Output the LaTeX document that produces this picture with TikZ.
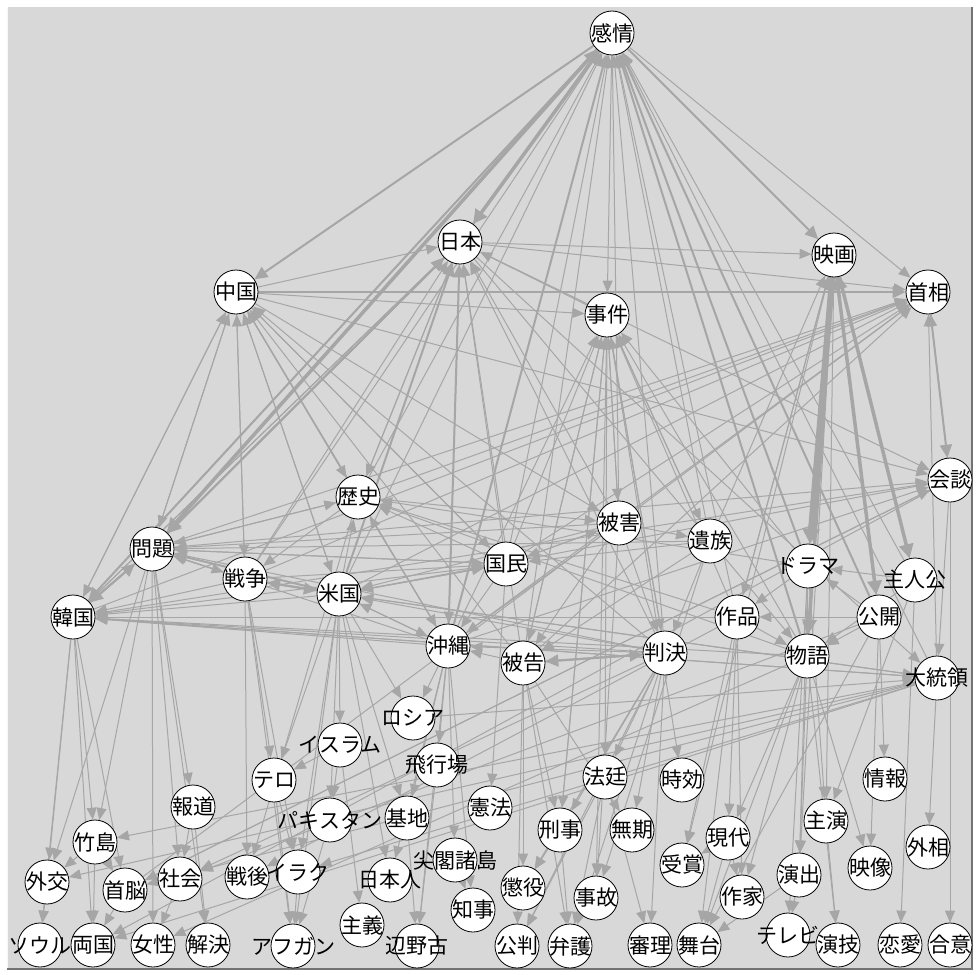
\documentclass[tikz,border=0pt]{standalone}
\usepackage{fontspec}
\newfontfamily\jafont{Noto Sans CJK JP}[RawFeature=+pwid]
\usetikzlibrary{arrows.meta}
\definecolor{bggray}{RGB}{216,216,216}
\definecolor{edgegray}{RGB}{166,166,166}
\pgfdeclarelayer{bg}
\pgfsetlayers{bg,main}

\begin{document}
\begin{tikzpicture}[x=1pt,y=-1pt,
    word/.style={circle,draw=black,line width=0.8pt,fill=white,
        minimum size=44pt,inner sep=0pt,
        label={[font=\jafont\fontsize{21}{21}\selectfont,inner sep=0pt]center:#1}},
    link/.style={color=edgegray,line width=1pt,
        -{Triangle[length=12pt,width=10pt]}},
    link2/.style={link,line width=2pt,-{Triangle[length=13pt,width=12pt]}},
    link3/.style={link,line width=3.5pt,-{Triangle[length=14pt,width=14pt]}},
    link4/.style={link,line width=6pt,-{Triangle[length=15pt,width=17pt]}}
    ]
    \useasboundingbox (0,0) rectangle (976,974);

    % top rows
    \node[word=感情] (kanjo) at (612,33) {};
    \node[word=日本] (nihon) at (460,242) {};
    \node[word=映画] (eiga) at (834,255) {};
    \node[word=中国] (chugoku) at (236,292) {};
    \node[word=首相] (shusho) at (928,292) {};
    \node[word=事件] (jiken) at (607,315) {};

    % middle rows
    \node[word=歴史] (rekishi) at (358,497) {};
    \node[word=会談] (kaidan) at (950,480) {};
    \node[word=被害] (higai) at (619,523) {};
    \node[word=遺族] (izoku) at (710,541) {};
    \node[word=問題] (mondai) at (152,549) {};
    \node[word=国民] (kokumin) at (506,564) {};
    \node[word=ドラマ] (drama) at (808,566) {};
    \node[word=主人公] (shujinko) at (915,580) {};
    \node[word=戦争] (senso) at (245,579) {};
    \node[word=米国] (beikoku) at (339,594) {};
    \node[word=韓国] (kankoku) at (73,617) {};
    \node[word=作品] (sakuhin) at (737,617) {};
    \node[word=公開] (kokai) at (879,617) {};
    \node[word=沖縄] (okinawa) at (448,646) {};
    \node[word=被告] (hikoku) at (523,663) {};
    \node[word=判決] (hanketsu) at (665,653) {};
    \node[word=物語] (monogatari) at (807,656) {};
    \node[word=大統領] (daitoryo) at (937,678) {};

    % lower rows
    \node[word=ロシア] (russia) at (413,718) {};
    \node[word=イスラム] (islam) at (340,745) {};
    \node[word=飛行場] (hikojo) at (437,765) {};
    \node[word=テロ] (terror) at (274,780) {};
    \node[word=報道] (hodo) at (193,807) {};
    \node[word=情報] (joho) at (885,779) {};
    \node[word=法廷] (hotei) at (605,777) {};
    \node[word=時効] (jiko) at (682,780) {};
    \node[word=主演] (shuen) at (826,821) {};
    \node[word=パキスタン] (pakistan) at (330,820) {};
    \node[word=基地] (kichi) at (407,818) {};
    \node[word=憲法] (kenpo) at (490,808) {};
    \node[word=刑事] (keiji) at (560,830) {};
    \node[word=無期] (muki) at (632,830) {};
    \node[word=竹島] (takeshima) at (95,842) {};
    \node[word=外相] (gaisho) at (928,847) {};
    \node[word=現代] (gendai) at (728,838) {};
    \node[word=受賞] (jusho) at (682,865) {};
    \node[word=演出] (enshutsu) at (799,875) {};
    \node[word=映像] (eizo) at (870,868) {};
    \node[word=外交] (gaiko) at (47,882) {};
    \node[word=首脳] (shuno) at (125,890) {};
    \node[word=社会] (shakai) at (180,879) {};
    \node[word=戦後] (sengo) at (247,877) {};
    \node[word=イラク] (iraq) at (298,872) {};
    \node[word=日本人] (nihonjin) at (390,880) {};
    \node[word=尖閣諸島] (senkaku) at (455,860) {};
    \node[word=懲役] (choeki) at (523,888) {};
    \node[word=事故] (accident) at (596,898) {};
    \node[word=作家] (sakka) at (742,897) {};
    \node[word=知事] (chiji) at (473,910) {};
    \node[word=主義] (shugi) at (362,925) {};

    % bottom row
    \node[word=ソウル] (seoul) at (40,945) {};
    \node[word=両国] (ryokoku) at (93,945) {};
    \node[word=女性] (josei) at (153,945) {};
    \node[word=解決] (kaiketsu) at (208,945) {};
    \node[word=アフガン] (afghan) at (293,946) {};
    \node[word=辺野古] (henoko) at (417,946) {};
    \node[word=公判] (kohan) at (517,946) {};
    \node[word=弁護] (bengo) at (570,946) {};
    \node[word=審理] (shinri) at (650,945) {};
    \node[word=舞台] (butai) at (699,945) {};
    \node[word=テレビ] (tv) at (788,935) {};
    \node[word=演技] (engi) at (838,945) {};
    \node[word=恋愛] (renai) at (900,945) {};
    \node[word=合意] (goi) at (950,945) {};

    \begin{pgfonlayer}{bg}
        % frame
        \fill[bggray] (7,7) rectangle (972,969);
        \draw[white!80!bggray] (7.5,7) -- (7.5,969);
        \draw[black!55,line width=2pt] (972,7) -- (972,969) -- (7,969);

        % top node
        \draw[link3] (kanjo) -- (mondai);
        \draw[link3] (kanjo) -- (nihon);
        \draw[link2] (kanjo) -- (kankoku);
        \draw[link2] (kanjo) -- (chugoku);
        \draw[link] (kanjo) -- (jiken);
        \draw[link2] (kanjo) -- (eiga);
        \draw[link] (kanjo) -- (shusho);
        \draw[link2] (mondai) -- (kanjo);
        \draw[link2] (nihon) -- (kanjo);
        \draw[link] (kankoku) -- (kanjo);
        \draw[link] (senso) -- (kanjo);
        \draw[link] (beikoku) -- (kanjo);
        \draw[link] (rekishi) -- (kanjo);
        \draw[link2] (okinawa) -- (kanjo);
        \draw[link] (kokumin) -- (kanjo);
        \draw[link] (higai) -- (kanjo);
        \draw[link] (hikoku) -- (kanjo);
        \draw[link] (hanketsu) -- (kanjo);
        \draw[link] (izoku) -- (kanjo);
        \draw[link] (sakuhin) -- (kanjo);
        \draw[link2] (drama) -- (kanjo);
        \draw[link2] (monogatari) -- (kanjo);
        \draw[link2] (kokai) -- (kanjo);
        \draw[link] (shujinko) -- (kanjo);
        \draw[link] (daitoryo) -- (kanjo);

        % nihon
        \draw[link] (chugoku) -- (nihon);
        \draw[link2] (mondai) -- (nihon);
        \draw[link] (kankoku) -- (nihon);
        \draw[link] (senso) -- (nihon);
        \draw[link2] (beikoku) -- (nihon);
        \draw[link] (rekishi) -- (nihon);
        \draw[link2] (okinawa) -- (nihon);
        \draw[link] (kokumin) -- (nihon);
        \draw[link] (higai) -- (nihon);
        \draw[link] (hanketsu) -- (nihon);
        \draw[link] (hikoku) -- (nihon);
        \draw[link] (jiken) -- (nihon);
        \draw[link] (nihon) -- (eiga);
        \draw[link] (nihon) -- (shusho);
        \draw[link] (nihon) -- (kaidan);
        \draw[link2] (nihon) -- (mondai);
        \draw[link] (nihon) -- (kankoku);
        \draw[link] (nihon) -- (okinawa);
        \draw[link] (nihon) -- (monogatari);
        \draw[link] (nihon) -- (daitoryo);
        \draw[link] (nihon) -- (rekishi);

        % chugoku
        \draw[link2] (chugoku) -- (shusho);
        \draw[link] (chugoku) -- (mondai);
        \draw[link] (chugoku) -- (kankoku);
        \draw[link] (chugoku) -- (rekishi);
        \draw[link] (chugoku) -- (senso);
        \draw[link] (chugoku) -- (beikoku);
        \draw[link] (chugoku) -- (okinawa);
        \draw[link] (chugoku) -- (kokumin);
        \draw[link] (chugoku) -- (jiken);
        \draw[link] (chugoku) -- (kaidan);
        \draw[link] (chugoku) -- (higai);
        \draw[link] (kankoku) -- (chugoku);
        \draw[link] (mondai) -- (chugoku);
        \draw[link] (senso) -- (chugoku);
        \draw[link] (beikoku) -- (chugoku);
        \draw[link] (rekishi) -- (chugoku);
        \draw[link] (okinawa) -- (chugoku);
        \draw[link] (kokumin) -- (chugoku);
        \draw[link] (hanketsu) -- (chugoku);
        \draw[link] (hikoku) -- (chugoku);

        % jiken
        \draw[link] (jiken) -- (higai);
        \draw[link] (jiken) -- (izoku);
        \draw[link] (jiken) -- (hanketsu);
        \draw[link] (jiken) -- (hikoku);
        \draw[link] (jiken) -- (jiko);
        \draw[link] (jiken) -- (accident);
        \draw[link] (jiken) -- (keiji);
        \draw[link] (jiken) -- (hotei);
        \draw[link] (higai) -- (jiken);
        \draw[link] (izoku) -- (jiken);
        \draw[link] (hanketsu) -- (jiken);
        \draw[link] (hikoku) -- (jiken);
        \draw[link] (keiji) -- (jiken);
        \draw[link] (kokumin) -- (jiken);
        \draw[link] (okinawa) -- (jiken);
        \draw[link] (monogatari) -- (jiken);
        \draw[link] (drama) -- (jiken);
        \draw[link] (sakuhin) -- (jiken);

        % eiga
        \draw[link4] (eiga) -- (drama);
        \draw[link3] (eiga) -- (kokai);
        \draw[link3] (eiga) -- (shujinko);
        \draw[link3] (eiga) -- (monogatari);
        \draw[link] (eiga) -- (sakuhin);
        \draw[link] (eiga) -- (shuen);
        \draw[link] (eiga) -- (enshutsu);
        \draw[link] (eiga) -- (jusho);
        \draw[link] (drama) -- (eiga);
        \draw[link] (sakuhin) -- (eiga);
        \draw[link2] (monogatari) -- (eiga);
        \draw[link] (kokai) -- (eiga);
        \draw[link] (shujinko) -- (eiga);
        \draw[link] (izoku) -- (eiga);

        % shusho and kaidan
        \draw[link] (mondai) -- (shusho);
        \draw[link] (kankoku) -- (shusho);
        \draw[link] (beikoku) -- (shusho);
        \draw[link] (senso) -- (shusho);
        \draw[link] (rekishi) -- (shusho);
        \draw[link] (okinawa) -- (shusho);
        \draw[link] (kokumin) -- (shusho);
        \draw[link] (hikoku) -- (shusho);
        \draw[link] (kaidan) -- (shusho);
        \draw[link] (daitoryo) -- (shusho);
        \draw[link2] (shusho) -- (kaidan);
        \draw[link] (shuno) -- (shusho);
        \draw[link] (mondai) -- (kaidan);
        \draw[link] (kankoku) -- (kaidan);
        \draw[link] (beikoku) -- (kaidan);
        \draw[link] (shuno) -- (kaidan);
        \draw[link] (okinawa) -- (kaidan);
        \draw[link] (kaidan) -- (daitoryo);
        \draw[link] (kaidan) -- (goi);
        \draw[link] (kaidan) -- (shuno);
        \draw[link] (kaidan) -- (ryokoku);

        % daitoryo
        \draw[link] (daitoryo) -- (kankoku);
        \draw[link] (daitoryo) -- (beikoku);
        \draw[link] (daitoryo) -- (gaisho);
        \draw[link] (daitoryo) -- (shuno);
        \draw[link] (daitoryo) -- (ryokoku);
        \draw[link] (daitoryo) -- (gaiko);
        \draw[link] (daitoryo) -- (iraq);
        \draw[link] (daitoryo) -- (takeshima);
        \draw[link] (beikoku) -- (daitoryo);
        \draw[link] (kankoku) -- (daitoryo);
        \draw[link] (russia) -- (daitoryo);

        % mondai and kankoku
        \draw[link2] (mondai) -- (kankoku);
        \draw[link2] (kankoku) -- (mondai);
        \draw[link] (mondai) -- (senso);
        \draw[link] (mondai) -- (hodo);
        \draw[link] (mondai) -- (shakai);
        \draw[link] (mondai) -- (josei);
        \draw[link] (mondai) -- (kaiketsu);
        \draw[link] (mondai) -- (gaiko);
        \draw[link] (mondai) -- (takeshima);
        \draw[link] (mondai) -- (kokumin);
        \draw[link] (mondai) -- (rekishi);
        \draw[link] (senso) -- (mondai);
        \draw[link2] (beikoku) -- (mondai);
        \draw[link] (rekishi) -- (mondai);
        \draw[link] (kokumin) -- (mondai);
        \draw[link] (okinawa) -- (mondai);
        \draw[link] (higai) -- (mondai);
        \draw[link] (hanketsu) -- (mondai);
        \draw[link] (izoku) -- (mondai);
        \draw[link] (kankoku) -- (takeshima);
        \draw[link] (kankoku) -- (gaiko);
        \draw[link] (kankoku) -- (seoul);
        \draw[link] (kankoku) -- (ryokoku);
        \draw[link] (kankoku) -- (shuno);
        \draw[link] (beikoku) -- (kankoku);
        \draw[link] (senso) -- (kankoku);
        \draw[link] (okinawa) -- (kankoku);
        \draw[link] (kokumin) -- (kankoku);
        \draw[link] (hanketsu) -- (kankoku);
        \draw[link] (sakuhin) -- (kankoku);
        \draw[link] (monogatari) -- (kankoku);

        % senso and beikoku
        \draw[link] (senso) -- (sengo);
        \draw[link] (senso) -- (iraq);
        \draw[link] (senso) -- (terror);
        \draw[link] (senso) -- (afghan);
        \draw[link2] (senso) -- (beikoku);
        \draw[link2] (beikoku) -- (senso);
        \draw[link] (rekishi) -- (senso);
        \draw[link] (senso) -- (kokumin);
        \draw[link] (beikoku) -- (terror);
        \draw[link] (beikoku) -- (iraq);
        \draw[link] (beikoku) -- (afghan);
        \draw[link] (beikoku) -- (islam);
        \draw[link] (beikoku) -- (pakistan);
        \draw[link] (beikoku) -- (kichi);
        \draw[link] (beikoku) -- (nihonjin);
        \draw[link] (beikoku) -- (okinawa);
        \draw[link] (beikoku) -- (kokumin);
        \draw[link] (beikoku) -- (rekishi);
        \draw[link] (beikoku) -- (russia);
        \draw[link] (kokumin) -- (beikoku);
        \draw[link] (okinawa) -- (beikoku);
        \draw[link] (hanketsu) -- (beikoku);
        \draw[link] (higai) -- (beikoku);

        % rekishi and okinawa
        \draw[link] (rekishi) -- (higai);
        \draw[link] (rekishi) -- (sengo);
        \draw[link] (okinawa) -- (rekishi);
        \draw[link] (kokumin) -- (rekishi);
        \draw[link] (sakuhin) -- (rekishi);
        \draw[link] (monogatari) -- (rekishi);
        \draw[link] (drama) -- (rekishi);
        \draw[link] (okinawa) -- (kichi);
        \draw[link] (okinawa) -- (hikojo);
        \draw[link] (okinawa) -- (henoko);
        \draw[link] (okinawa) -- (chiji);
        \draw[link] (okinawa) -- (senkaku);
        \draw[link] (okinawa) -- (nihonjin);
        \draw[link] (okinawa) -- (russia);
        \draw[link] (kokumin) -- (okinawa);
        \draw[link] (hanketsu) -- (okinawa);
        \draw[link] (higai) -- (okinawa);
        \draw[link] (hikoku) -- (okinawa);

        % kokumin, higai, izoku
        \draw[link] (kokumin) -- (kenpo);
        \draw[link] (kokumin) -- (higai);
        \draw[link] (higai) -- (kokumin);
        \draw[link] (izoku) -- (kokumin);
        \draw[link] (higai) -- (izoku);
        \draw[link] (higai) -- (hikoku);
        \draw[link] (higai) -- (hanketsu);
        \draw[link] (higai) -- (accident);
        \draw[link] (izoku) -- (hanketsu);
        \draw[link] (izoku) -- (accident);
        \draw[link] (izoku) -- (hikoku);

        % hikoku and hanketsu
        \draw[link2] (hikoku) -- (hanketsu);
        \draw[link2] (hanketsu) -- (hikoku);
        \draw[link] (hikoku) -- (keiji);
        \draw[link] (hikoku) -- (choeki);
        \draw[link] (hikoku) -- (kohan);
        \draw[link] (hikoku) -- (bengo);
        \draw[link] (hikoku) -- (muki);
        \draw[link] (hanketsu) -- (keiji);
        \draw[link] (hanketsu) -- (choeki);
        \draw[link] (hanketsu) -- (muki);
        \draw[link] (hanketsu) -- (shinri);
        \draw[link] (hanketsu) -- (bengo);
        \draw[link] (hanketsu) -- (kohan);
        \draw[link] (hanketsu) -- (hotei);
        \draw[link] (hotei) -- (kohan);
        \draw[link] (hotei) -- (bengo);
        \draw[link] (hotei) -- (shinri);
        \draw[link] (keiji) -- (choeki);
        \draw[link] (keiji) -- (bengo);

        % sakuhin, kokai, drama, monogatari
        \draw[link] (sakuhin) -- (gendai);
        \draw[link] (sakuhin) -- (jusho);
        \draw[link] (sakuhin) -- (sakka);
        \draw[link] (sakuhin) -- (butai);
        \draw[link] (sakuhin) -- (monogatari);
        \draw[link] (drama) -- (sakuhin);
        \draw[link] (kokai) -- (sakuhin);
        \draw[link] (kokai) -- (monogatari);
        \draw[link] (kokai) -- (drama);
        \draw[link] (kokai) -- (joho);
        \draw[link] (kokai) -- (eizo);
        \draw[link] (kokai) -- (butai);
        \draw[link] (drama) -- (monogatari);
        \draw[link] (drama) -- (shuen);
        \draw[link] (drama) -- (enshutsu);
        \draw[link] (drama) -- (tv);
        \draw[link] (monogatari) -- (enshutsu);
        \draw[link] (monogatari) -- (eizo);
        \draw[link] (monogatari) -- (engi);
        \draw[link] (monogatari) -- (butai);
        \draw[link] (monogatari) -- (sakka);
        \draw[link] (monogatari) -- (gendai);
        \draw[link] (shujinko) -- (drama);
        \draw[link] (shujinko) -- (monogatari);
        \draw[link] (shujinko) -- (renai);
        \draw[link] (shujinko) -- (shuen);
        \draw[link] (shuen) -- (engi);
        \draw[link] (enshutsu) -- (tv);
        \draw[link] (enshutsu) -- (butai);
        \draw[link] (gendai) -- (sakka);
        \draw[link] (gendai) -- (butai);
        \draw[link] (gendai) -- (jusho);

        % lower left
        \draw[link] (takeshima) -- (gaiko);
        \draw[link] (takeshima) -- (shuno);
        \draw[link] (takeshima) -- (ryokoku);
        \draw[link] (gaiko) -- (seoul);
        \draw[link] (shuno) -- (ryokoku);
        \draw[link] (hodo) -- (shakai);
        \draw[link] (hodo) -- (kaiketsu);
        \draw[link] (shakai) -- (josei);
        \draw[link] (terror) -- (afghan);
        \draw[link] (terror) -- (iraq);
        \draw[link] (islam) -- (terror);
        \draw[link] (islam) -- (shugi);
        \draw[link] (islam) -- (pakistan);
        \draw[link] (iraq) -- (afghan);
        \draw[link] (hikojo) -- (henoko);
        \draw[link] (kichi) -- (henoko);
        \draw[link] (senkaku) -- (chiji);
        \draw[link] (pakistan) -- (afghan);

        % long crossings
        \draw[link] (kokai) -- (shakai);
        \draw[link] (sakuhin) -- (sengo);
        \draw[link] (hanketsu) -- (shakai);
        \draw[link] (monogatari) -- (josei);
    \end{pgfonlayer}

\end{tikzpicture}
\end{document}
